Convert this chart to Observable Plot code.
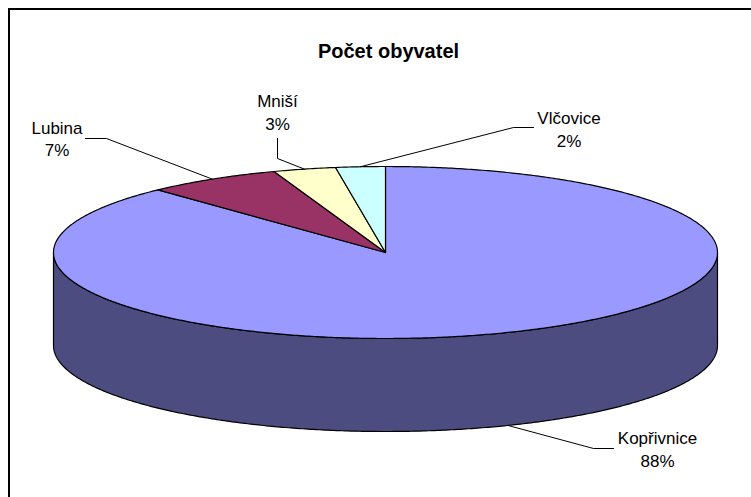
<!DOCTYPE html>
<html>
<head>
<meta charset="utf-8">
<script src="https://cdn.jsdelivr.net/npm/d3@7"></script>
<script src="https://cdn.jsdelivr.net/npm/@observablehq/plot@0.6"></script>
<style>
  html, body { margin: 0; padding: 0; background: #fff; }
  #wrap { position: relative; width: 751px; height: 497px; overflow: hidden; }
  #frame { position: absolute; left: 8px; top: 8px; width: 800px; height: 600px;
           border-left: 2px solid #000; border-top: 2px solid #000; pointer-events: none; }
  #chart { position: absolute; left: 0; top: 0; }
</style>
</head>
<body>
<div id="wrap"><div id="chart"></div><div id="frame"></div></div>
<script>
// ---- data ----
const title = "Počet obyvatel";
const categories = ["Kopřivnice", "Lubina", "Mniší", "Vlčovice"];
const population = [20500, 1530, 710, 560];
const topColors = ["#9999FF", "#993366", "#FFFFCC", "#CCFFFF"];
const sideColors = ["#4C4C80", "#4D1A33", "#808066", "#668080"];

// ---- layout ----
const W = 751, H = 497;
const cx = 385, cy = 252, rx = 332, ry = 86, depth = 93;
// label anchor (center x, last-line baseline y) and leader elbow / end points
const labelPos = [[657, 466], [56.5, 155.5], [277, 129], [568.5, 146]];
const leaderElbow = [[593, 448], [106, 138], [277, 158], [513, 127]];
const leaderEnd = [[613, 448], [85, 138], [277, 138], [533, 127]];

const total = d3.sum(population);
const arcs = d3.pie().sort(null).value(d => d)(population);
const pt = (a, dz = 0) => ({x: cx + rx * Math.sin(a), y: cy - ry * Math.cos(a) + dz});

function arcPts(a0, a1, dz) {
  const n = Math.max(2, Math.ceil(Math.abs(a1 - a0) / (Math.PI / 360)));
  const out = [];
  for (let k = 0; k <= n; k++) out.push(pt(a0 + (a1 - a0) * k / n, dz));
  return out;
}

// side walls (front, visible half)
const sides = [];
arcs.forEach((a, i) => {
  const s = Math.max(a.startAngle, Math.PI / 2), e = Math.min(a.endAngle, 3 * Math.PI / 2);
  if (s < e) {
    const p = [...arcPts(s, e, 0), ...arcPts(e, s, depth)];
    p.push(p[0]);
    p.forEach(q => sides.push({...q, id: "s" + i, fill: sideColors[i]}));
  }
});

// top faces
const tops = [];
arcs.forEach((a, i) => {
  const p = [{x: cx, y: cy}, ...arcPts(a.startAngle, a.endAngle, 0), {x: cx, y: cy}];
  p.forEach(q => tops.push({...q, id: "t" + i, fill: topColors[i]}));
});

// leader lines
const leaders = [];
arcs.forEach((a, i) => {
  const mid = (a.startAngle + a.endAngle) / 2;
  const front = Math.cos(mid) < 0;
  const start = pt(mid, front ? depth : 0);
  [start, {x: leaderElbow[i][0], y: leaderElbow[i][1]}, {x: leaderEnd[i][0], y: leaderEnd[i][1]}]
    .forEach(q => leaders.push({...q, id: "l" + i}));
});

const labels = categories.map((c, i) => ({
  text: `${c}\n${Math.round(population[i] / total * 100)}%`,
  x: labelPos[i][0], y: labelPos[i][1]
}));

const chart = Plot.plot({
  width: W, height: H,
  margin: 0,
  x: {domain: [0, W], range: [0, W], axis: null},
  y: {domain: [0, H], range: [0, H], axis: null},
  color: {type: "identity"},
  style: {fontFamily: "'Liberation Sans', Arial, sans-serif", background: "transparent", overflow: "visible"},
  marks: [
    Plot.line(sides, {x: "x", y: "y", z: "id", fill: "fill", stroke: "#000", strokeWidth: 1.2, strokeLinejoin: "round", curve: "linear"}),
    Plot.line(tops, {x: "x", y: "y", z: "id", fill: "fill", stroke: "#000", strokeWidth: 1.2, strokeLinejoin: "round", curve: "linear"}),
    Plot.line(leaders, {x: "x", y: "y", z: "id", stroke: "#000", strokeWidth: 1, curve: "linear"}),
    Plot.text(labels, {x: "x", y: "y", text: "text", fontSize: 17, lineHeight: 1.3, lineAnchor: "bottom", textAnchor: "middle", fill: "#000"}),
    Plot.text([title], {x: () => 388, y: () => 57, text: d => d, fontSize: 20, fontWeight: "bold", lineAnchor: "bottom", textAnchor: "middle", fill: "#000"})
  ]
});
document.getElementById("chart").appendChild(chart);
</script>
</body>
</html>
